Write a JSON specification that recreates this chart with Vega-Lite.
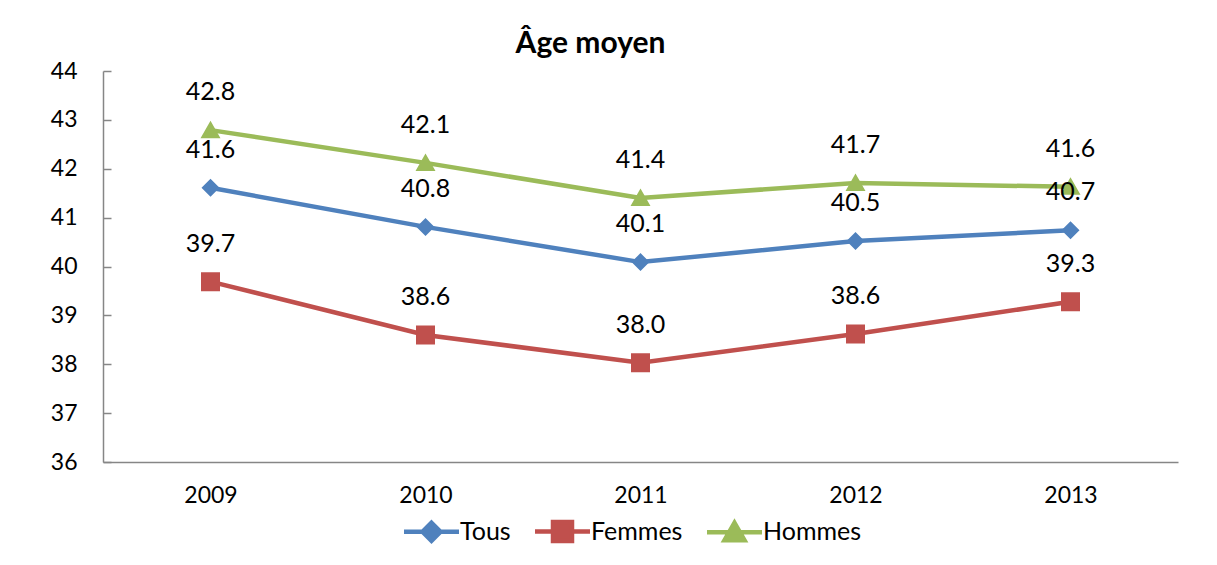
{
  "$schema": "https://vega.github.io/schema/vega-lite/v6.json",
  "width": 1075,
  "height": 391,
  "autosize": "none",
  "padding": {"left": 103, "top": 71, "right": 39, "bottom": 103},
  "background": "white",
  "config": {
    "font": "Lato",
    "view": {"stroke": null},
    "axis": {"domainColor": "#868686", "tickColor": "#868686", "labelColor": "#000000", "labelFont": "Lato", "labelFontSize": 23, "grid": false, "domainWidth": 1.5, "tickWidth": 1.5},
    "legend": {"layout": {"bottom": {"anchor": "middle"}}}
  },
  "title": {"text": "Âge moyen", "fontSize": 30, "font": "Lato", "fontWeight": "bold", "color": "#000000", "offset": 1, "dx": -50, "anchor": "middle"},
  "data": {
    "values": [
      {"year": "2009", "series": "Tous", "value": 41.61},
      {"year": "2010", "series": "Tous", "value": 40.81},
      {"year": "2011", "series": "Tous", "value": 40.09},
      {"year": "2012", "series": "Tous", "value": 40.52},
      {"year": "2013", "series": "Tous", "value": 40.74},
      {"year": "2009", "series": "Femmes", "value": 39.69},
      {"year": "2010", "series": "Femmes", "value": 38.6},
      {"year": "2011", "series": "Femmes", "value": 38.03},
      {"year": "2012", "series": "Femmes", "value": 38.62},
      {"year": "2013", "series": "Femmes", "value": 39.28},
      {"year": "2009", "series": "Hommes", "value": 42.79},
      {"year": "2010", "series": "Hommes", "value": 42.12},
      {"year": "2011", "series": "Hommes", "value": 41.4},
      {"year": "2012", "series": "Hommes", "value": 41.71},
      {"year": "2013", "series": "Hommes", "value": 41.63}
    ]
  },
  "encoding": {
    "x": {"field": "year", "type": "ordinal", "scale": {"type": "point", "padding": 0.5}, "axis": {"title": null, "labelAngle": 0, "ticks": false, "labelPadding": 22}},
    "y": {"field": "value", "type": "quantitative", "scale": {"domain": [36, 44], "nice": false, "zero": false}, "axis": {"title": null, "values": [36, 37, 38, 39, 40, 41, 42, 43, 44], "tickSize": -8, "labelPadding": 34, "format": "d"}},
    "color": {
      "field": "series", "type": "nominal",
      "scale": {"domain": ["Tous", "Femmes", "Hommes"], "range": ["#4F81BD", "#C0504D", "#9BBB59"]},
      "sort": ["Tous", "Femmes", "Hommes"],
      "legend": {
        "orient": "bottom", "direction": "horizontal", "title": null,
        "labelFontSize": 25, "labelFont": "Lato", "labelColor": "#000000",
        "symbolSize": 400, "symbolStrokeWidth": 4.5, "symbolOpacity": 1, "columnPadding": 15, "labelOffset": 16, "offset": 12
      }
    }
  },
  "layer": [
    {"mark": {"type": "line", "strokeWidth": 4.5}},
    {
      "mark": {"type": "point", "filled": true, "opacity": 1, "size": 400, "strokeWidth": 0},
      "encoding": {
        "shape": {"field": "series", "type": "nominal", "scale": {"domain": ["Tous", "Femmes", "Hommes"], "range": ["M-2.75,0L2.75,0M0,-0.9L0.9,0L0,0.9L-0.9,0Z", "M-2.75,0L2.75,0M-0.95,-0.95L0.95,-0.95L0.95,0.95L-0.95,0.95Z", "M-2.75,0L2.75,0M0,-0.95L1,0.8L-1,0.8Z"]}},
        "stroke": {"field": "series", "type": "nominal", "scale": {"domain": ["Tous", "Femmes", "Hommes"], "range": ["#4F81BD", "#C0504D", "#9BBB59"]}}
      }
    },
    {
      "mark": {"type": "text", "dy": -30, "baseline": "alphabetic", "fontSize": 25, "font": "Lato", "color": "#000000"},
      "encoding": {"text": {"field": "value", "type": "quantitative", "format": ".1f"}, "color": {"value": "#000000"}}
    }
  ]
}
